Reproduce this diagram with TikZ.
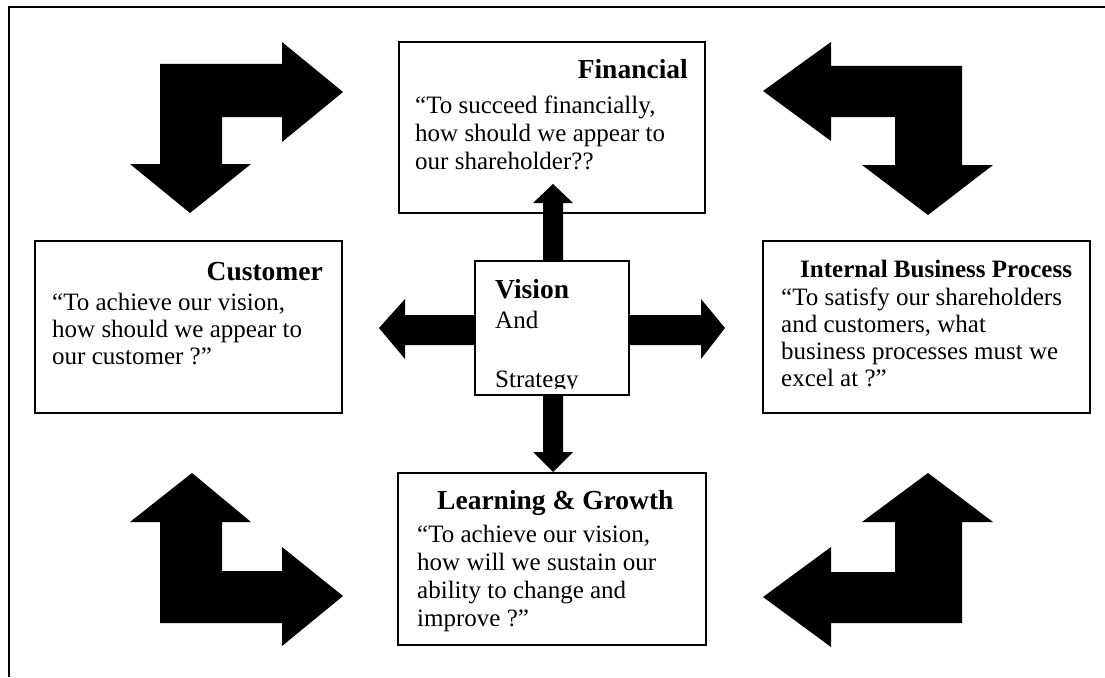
\documentclass[tikz,border=0pt]{standalone}
\usepackage{fontspec}
\setmainfont{Liberation Serif}
\begin{document}
\begin{tikzpicture}[x=1pt,y=-1pt,
  box/.style={draw=black, line width=2pt, fill=white, rectangle, inner sep=0pt, outer sep=0pt},
  blk/.style={fill=black},
  ttl/.style={font=\fontsize{27.5}{30}\selectfont\bfseries, inner sep=0pt},
  ttlsmall/.style={font=\fontsize{25}{28}\selectfont\bfseries, inner sep=0pt},
  body/.style={font=\fontsize{25}{#1}\selectfont, align=left, inner sep=0pt, anchor=north west},
  body/.default=28,
  plain/.style={font=\fontsize{25}{28}\selectfont, inner sep=0pt, anchor=base west},
]
\useasboundingbox (0,0) rectangle (1105,677);
\draw[line width=2pt] (1105,7) -- (9,7) -- (9,677);

% boxes
\node[box, minimum width=306pt, minimum height=171pt] (fin) at (552,127.5) {};
\node[box, minimum width=307pt, minimum height=172pt] (cus) at (188.5,327) {};
\node[box, minimum width=327pt, minimum height=172pt] (ibp) at (926.5,327) {};
\node[box, minimum width=154pt, minimum height=134pt] (vis) at (552,328) {};
\node[box, minimum width=308pt, minimum height=172pt] (lrn) at (552,559) {};

% texts
\node[ttl, anchor=base east] (finT) at (688,78) {Financial};
\node[body=28] (finB) at (415,93) {\rule{0pt}{20pt}“To succeed financially,\\how should we appear to\\our shareholder??};

\node[ttl, anchor=base east] (cusT) at (323,280) {Customer};
\node[body=27] (cusB) at (52,290) {\rule{0pt}{20pt}“To achieve our vision,\\how should we appear to\\our customer ?”};

\node[ttlsmall, anchor=base west] (ibpT) at (800,277) {Internal Business Process};
\node[body=27] (ibpB) at (781,285) {\rule{0pt}{20pt}“To satisfy our shareholders\\and customers, what\\business processes must we\\excel at ?”};

\node[ttl, anchor=base west] (lrnT) at (437,509) {Learning \& Growth};
\node[body=28] (lrnB) at (417,522) {\rule{0pt}{20pt}“To achieve our vision,\\how will we sustain our\\ability to change and\\improve ?”};

\begin{scope}
  \clip (477,263) rectangle (627,388);
  \node[ttl, anchor=base west] (visT) at (495,298) {Vision};
  \node[plain] (visA) at (495,328) {And};
  \node[plain] (visS) at (495,387) {Strategy};
\end{scope}

% central block arrows
\fill[blk] ([xshift=-9pt]vis.north) -- ++(0,-58) -- ++(-10,0) -- ++(20,-19) -- ++(20,19) -- ++(-10,0) -- ++(0,58) -- cycle;
\fill[blk] ([xshift=-9pt]vis.south) -- ++(0,57) -- ++(-10,0) -- ++(20,20) -- ++(20,-20) -- ++(-10,0) -- ++(0,-57) -- cycle;
\fill[blk] ([yshift=13pt]vis.west) -- ++(-70,0) -- ++(0,-16) -- ++(-26,29) -- ++(26,31) -- ++(0,-14) -- ++(70,0) -- cycle;
\fill[blk] ([yshift=13pt]vis.east) -- ++(72,0) -- ++(0,-16) -- ++(24,29) -- ++(-24,31) -- ++(0,-14) -- ++(-72,0) -- cycle;

% corner bent arrows
\fill[blk] (160,64) -- (282,64) -- (282,42) -- (343,92) -- (282,142) -- (282,117) -- (222,117)
  -- (222,164) -- (251,164) -- (190,213) -- (130,164) -- (160,164) -- cycle;
\fill[blk] (962,66) -- (962,165) -- (993,165) -- (928,215) -- (862,165) -- (895,165) -- (895,117)
  -- (831,117) -- (831,141) -- (763,91) -- (831,42) -- (831,66) -- cycle;
\fill[blk] (192,473) -- (251,522) -- (222,522) -- (222,571) -- (282,571) -- (282,547) -- (343,596)
  -- (282,646) -- (282,623) -- (160,623) -- (160,522) -- (130,522) -- cycle;
\fill[blk] (928,473) -- (993,522) -- (962,522) -- (962,623) -- (831,623) -- (831,647) -- (763,597)
  -- (831,547) -- (831,572) -- (895,572) -- (895,522) -- (862,522) -- cycle;
\end{tikzpicture}
\end{document}
